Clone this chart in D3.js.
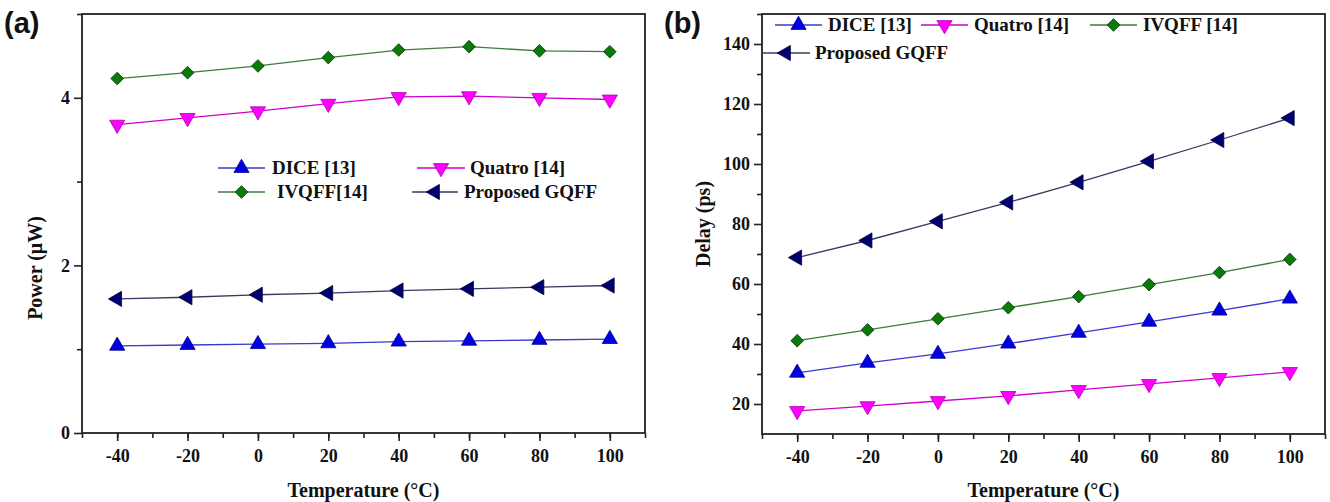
<!DOCTYPE html>
<html>
<head>
<meta charset="utf-8">
<script src="https://d3js.org/d3.v7.min.js"></script>
<style>
    body { margin: 0; background: #fff; }
    svg text { font-family: "Liberation Serif", "Times New Roman", serif; font-weight: bold; fill: #111; }
</style>
</head>
<body>
<div id="chartContainer"></div>
<script>
// temperatures (°C)
var temps = [-40, -20, 0, 20, 40, 60, 80, 100];
var xTicks = [-40, -20, 0, 20, 40, 60, 80, 100];

// (a) power, uW
var powerDice = [1.04, 1.05, 1.06, 1.07, 1.09, 1.10, 1.11, 1.12];
var powerQuatro = [3.68, 3.76, 3.84, 3.93, 4.01, 4.02, 4.00, 3.98];
var powerIvqff = [4.23, 4.30, 4.38, 4.48, 4.57, 4.61, 4.56, 4.55];
var powerGqff = [1.60, 1.62, 1.65, 1.67, 1.70, 1.72, 1.74, 1.76];
var powerTicks = [0, 2, 4];

// (b) delay, ps
var delayDice = [30.4, 33.7, 36.7, 40.1, 43.7, 47.4, 51.1, 55.1];
var delayQuatro = [17.7, 19.3, 21.0, 22.7, 24.7, 26.7, 28.7, 30.7];
var delayIvqff = [41.1, 44.7, 48.4, 52.1, 55.8, 59.8, 63.8, 68.2];
var delayGqff = [68.8, 74.5, 80.9, 87.2, 93.9, 100.9, 108.0, 115.3];
var delayTicks = [20, 40, 60, 80, 100, 120, 140];

var styles = {
    dice: { fill: "#0000e0", stroke: "#00008a", line: "#3a3ad0", shape: d3.symbolTriangle, rot: 0 },
    quatro: { fill: "#ff00ff", stroke: "#b000b0", line: "#d000d0", shape: d3.symbolTriangle, rot: 180 },
    ivqff: { fill: "#0a7a0a", stroke: "#053d05", line: "#3f7a3f", shape: d3.symbolSquare, rot: 45 },
    gqff: { fill: "#000070", stroke: "#000030", line: "#3a3a60", shape: d3.symbolTriangle, rot: -90 }
};

const svg = d3.select("#chartContainer")
    .append("svg")
    .attr("width", 1330)
    .attr("height", 502);

function marker(g, st, cx, cy) {
    let size = st.shape === d3.symbolSquare ? 80 : 100;
    g.append("path")
        .attr("d", d3.symbol().type(st.shape).size(size))
        .attr("transform", `translate(${cx},${cy}) rotate(${st.rot})`)
        .attr("fill", st.fill)
        .attr("stroke", st.stroke)
        .attr("stroke-width", 0.8);
}

function drawPanel(p) {
    const x = d3.scaleLinear().domain([-50, 110]).range([p.left, p.right]);
    const y = d3.scaleLinear().domain(p.yDomain).range([p.bottom, p.top]);

    // frame
    svg.append("rect")
        .attr("x", p.left).attr("y", p.top)
        .attr("width", p.right - p.left).attr("height", p.bottom - p.top)
        .attr("fill", "none").attr("stroke", "#222").attr("stroke-width", 1.8);

    // x axis
    svg.append("g")
        .attr("transform", `translate(0,${p.bottom})`)
        .call(d3.axisBottom(x).tickValues(d3.range(-50, 111, 10)).tickSize(5).tickFormat(""))
        .call(g => g.select(".domain").remove())
        .call(g => g.selectAll("line").attr("stroke", "#222").attr("stroke-width", 1.6));
    svg.append("g")
        .attr("transform", `translate(0,${p.bottom})`)
        .call(d3.axisBottom(x).tickValues(xTicks).tickSize(8).tickPadding(8).tickFormat(d => String(d)))
        .call(g => g.select(".domain").remove())
        .call(g => g.selectAll("line").attr("stroke", "#222").attr("stroke-width", 1.6))
        .call(g => g.selectAll("text").style("font-size", "18px"));

    // y axis
    svg.append("g")
        .attr("transform", `translate(${p.left},0)`)
        .call(d3.axisLeft(y).tickValues(p.yMinor).tickSize(5).tickFormat(""))
        .call(g => g.select(".domain").remove())
        .call(g => g.selectAll("line").attr("stroke", "#222").attr("stroke-width", 1.6));
    svg.append("g")
        .attr("transform", `translate(${p.left},0)`)
        .call(d3.axisLeft(y).tickValues(p.yTicks).tickSize(8).tickPadding(4).tickFormat(d => String(d)))
        .call(g => g.select(".domain").remove())
        .call(g => g.selectAll("line").attr("stroke", "#222").attr("stroke-width", 1.6))
        .call(g => g.selectAll("text").style("font-size", "18px"));

    // titles
    svg.append("text")
        .attr("x", (p.left + p.right) / 2).attr("y", 497)
        .attr("text-anchor", "middle").style("font-size", "20px")
        .text("Temperature (°C)");
    svg.append("text")
        .attr("transform", `translate(${p.yTitleX},${p.yTitleY}) rotate(-90)`)
        .attr("text-anchor", "middle").style("font-size", "20px")
        .text(p.yTitle);
    svg.append("text")
        .attr("x", p.labelX).attr("y", 33)
        .style("font-family", "'Liberation Sans', Arial, sans-serif")
        .style("font-size", "29px")
        .text(p.label);

    // series
    p.series.forEach(function (s) {
        let st = styles[s.key];
        let data = temps.map((t, i) => ({ t: t, v: s.values[i] }));
        svg.append("path")
            .datum(data)
            .attr("fill", "none")
            .attr("stroke", st.line)
            .attr("stroke-width", 1.3)
            .attr("d", d3.line().x(d => x(d.t)).y(d => y(d.v)));
        let g = svg.append("g");
        data.forEach(d => marker(g, st, x(d.t), y(d.v)));
    });

    // legend
    p.legend.forEach(function (l) {
        let st = styles[l.key];
        let g = svg.append("g");
        g.append("line")
            .attr("x1", l.x).attr("x2", l.x + l.w)
            .attr("y1", l.y).attr("y2", l.y)
            .attr("stroke", st.line).attr("stroke-width", 1.3);
        marker(g, st, l.x + l.w / 2, l.y);
        g.append("text")
            .attr("x", l.tx).attr("y", l.y + 6)
            .style("font-size", "19px")
            .text(l.text);
    });
}

drawPanel({
    left: 82, right: 645, top: 14, bottom: 433,
    yDomain: [0, 5], yTicks: powerTicks, yMinor: [1, 3, 5],
    yTitle: "Power (\u03bcW)", yTitleX: 42, yTitleY: 268,
    label: "(a)", labelX: 4,
    series: [
        { key: "dice", values: powerDice },
        { key: "quatro", values: powerQuatro },
        { key: "ivqff", values: powerIvqff },
        { key: "gqff", values: powerGqff }
    ],
    legend: [
        { key: "dice", text: "DICE [13]", x: 218, w: 47, tx: 272, y: 168 },
        { key: "quatro", text: "Quatro [14]", x: 417, w: 48, tx: 470, y: 168 },
        { key: "ivqff", text: "IVQFF[14]", x: 218, w: 47, tx: 277, y: 192 },
        { key: "gqff", text: "Proposed GQFF", x: 412, w: 46, tx: 464, y: 192 }
    ]
});

drawPanel({
    left: 762, right: 1325, top: 14, bottom: 434,
    yDomain: [10, 150], yTicks: delayTicks, yMinor: [30, 50, 70, 90, 110, 130, 150],
    yTitle: "Delay (ps)", yTitleX: 710, yTitleY: 224,
    label: "(b)", labelX: 664,
    series: [
        { key: "dice", values: delayDice },
        { key: "quatro", values: delayQuatro },
        { key: "ivqff", values: delayIvqff },
        { key: "gqff", values: delayGqff }
    ],
    legend: [
        { key: "dice", text: "DICE [13]", x: 775, w: 47, tx: 828, y: 25 },
        { key: "quatro", text: "Quatro [14]", x: 921, w: 47, tx: 974, y: 25 },
        { key: "ivqff", text: "IVQFF [14]", x: 1090, w: 47, tx: 1143, y: 25 },
        { key: "gqff", text: "Proposed GQFF", x: 762, w: 48, tx: 815, y: 53 }
    ]
});
</script>
</body>
</html>
